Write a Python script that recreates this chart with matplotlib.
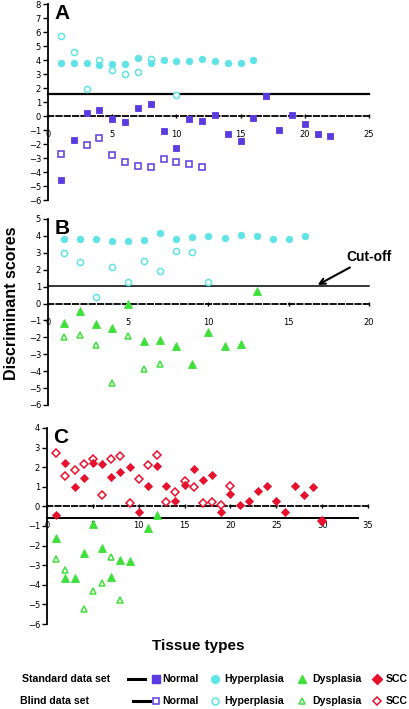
import numpy as np
import matplotlib
matplotlib.use("Agg")
import matplotlib.pyplot as plt

plt.rcParams['font.family'] = ['DejaVu Sans']

# colours
C_NORMAL = "#5a3be0"
C_HYPER = "#5fe3e6"
C_DYS = "#3ee03a"
C_SCC = "#e8112d"

# ---- panel A ----
A_normal_std_x = list(range(1, 23))
A_normal_std_y = [-4.6, -1.7, 0.25, 0.4, -0.2, -0.45, 0.55, 0.85, -1.05, -2.3, -0.2,
                  -0.35, 0.1, -1.3, -1.8, -0.15, 1.45, -1.0, 0.1, -0.6, -1.3, -1.4]
A_normal_bl_x = [1, 3, 4, 5, 6, 7, 8, 9, 10, 11, 12]
A_normal_bl_y = [-2.7, -2.1, -1.55, -2.75, -3.25, -3.6, -3.65, -3.1, -3.25, -3.4, -3.65]
A_hyper_std_x = list(range(1, 17))
A_hyper_std_y = [3.8, 3.8, 3.8, 3.65, 3.7, 3.7, 4.15, 3.8, 4.0, 3.95, 3.9, 4.05, 3.95, 3.8, 3.8, 4.0]
A_hyper_bl_x = [1, 2, 3, 4, 5, 6, 7, 8, 10]
A_hyper_bl_y = [5.75, 4.6, 1.95, 4.0, 3.3, 3.0, 3.15, 4.1, 1.5]
A_cutoff = 1.6

# ---- panel B ----
B_hyper_std_x = list(range(1, 17))
B_hyper_std_y = [3.8, 3.8, 3.8, 3.7, 3.7, 3.75, 4.15, 3.8, 3.95, 4.0, 3.9, 4.05, 4.0, 3.8, 3.8, 4.0]
B_hyper_bl_x = list(range(1, 11))
B_hyper_bl_y = [3.0, 2.45, 0.4, 2.15, 1.3, 2.5, 1.9, 3.1, 3.05, 1.25]
B_dys_std_x = list(range(1, 14))
B_dys_std_y = [-1.15, -0.45, -1.2, -1.45, 0.0, -2.2, -2.15, -2.5, -3.6, -1.7, -2.5, -2.4, 0.75]
B_dys_bl_x = list(range(1, 8))
B_dys_bl_y = [-1.95, -1.85, -2.45, -4.7, -1.9, -3.85, -3.55]
B_cutoff = 1.05

# ---- panel C ----
C_scc_std_x = list(range(1, 31))
C_scc_std_y = [-0.45, 2.2, 1.0, 1.45, 2.2, 2.15, 1.5, 1.75, 2.0, -0.3, 1.05, 2.05, 1.05, 0.28,
               1.1, 1.9, 1.35, 1.6, -0.3, 0.63, 0.08, 0.28, 0.78, 1.02, 0.25, -0.27, 1.05,
               0.58, 0.98, -0.75]
C_scc_bl_x = list(range(1, 21)) + [30]
C_scc_bl_y = [2.72, 1.57, 1.85, 2.17, 2.42, 0.6, 2.42, 2.57, 0.17, 1.42, 2.13, 2.63, 0.2,
              0.75, 1.3, 0.97, 0.17, 0.2, 0.05, 1.05, -0.75]
C_dys_std_x = [1, 2, 3, 4, 5, 6, 7, 8, 9, 11, 12]
C_dys_std_y = [-1.6, -3.65, -3.65, -2.38, -0.88, -2.1, -3.6, -2.72, -2.77, -1.1, -0.45]
C_dys_bl_x = [1, 2, 4, 5, 6, 7, 8]
C_dys_bl_y = [-2.67, -3.23, -5.24, -4.34, -3.9, -2.58, -4.8]
C_cutoff = -0.6

W, H = 410, 709
fig = plt.figure(figsize=(W / 100, H / 100), dpi=100)


def px_axes(left, top, right, bottom):
    return fig.add_axes([left / W, 1 - bottom / H, (right - left) / W, (bottom - top) / H])


def style(ax, xmax, ylo, yhi, xstep):
    ax.set_xlim(0, xmax)
    ax.set_ylim(ylo, yhi)
    for s in ["top", "right"]:
        ax.spines[s].set_visible(False)
    ax.spines["left"].set_linewidth(1.3)
    ax.spines["bottom"].set_position(("data", 0))
    ax.spines["bottom"].set_linestyle((0, (3, 1.6)))
    ax.spines["bottom"].set_linewidth(1.3)
    ax.set_xticks(np.arange(0, xmax + 1, xstep))
    ax.set_yticks(np.arange(ylo, yhi + 1, 1))
    ax.tick_params(axis="y", direction="out", length=3.5, width=1, labelsize=6, pad=1.5)
    ax.tick_params(axis="x", direction="inout", length=3.5, width=1, labelsize=6, pad=8.5)
    ax.patch.set_alpha(0)


def filled(ax, x, y, m, c, ms=4.7):
    ax.plot(x, y, ls="none", marker=m, ms=ms, mfc=c, mec=c, mew=0.6, clip_on=False, zorder=3)


def hollow(ax, x, y, m, c, ms=4.4):
    ax.plot(x, y, ls="none", marker=m, ms=ms, mfc="white", mec=c, mew=1.1, clip_on=False, zorder=3)


LET = dict(fontsize=15, fontweight="bold", family="Liberation Sans", va="top", ha="left")

# panel A
axA = px_axes(48, 4, 369, 200)
style(axA, 25, -6, 8, 5)
axA.plot([0, 25], [A_cutoff, A_cutoff], color="black", lw=1.6, zorder=2, clip_on=False)
hollow(axA, A_hyper_bl_x, A_hyper_bl_y, "o", C_HYPER)
filled(axA, A_hyper_std_x, A_hyper_std_y, "o", C_HYPER)
hollow(axA, A_normal_bl_x, A_normal_bl_y, "s", C_NORMAL, ms=4.1)
filled(axA, A_normal_std_x, A_normal_std_y, "s", C_NORMAL)
axA.text(0.02, 1.0, "A", transform=axA.transAxes, **LET)

# panel B
axB = px_axes(48, 219, 369, 405)
style(axB, 20, -6, 5, 5)
axB.plot([0, 20], [B_cutoff, B_cutoff], color="black", lw=1.1, zorder=2, clip_on=False)
filled(axB, B_hyper_std_x, B_hyper_std_y, "o", C_HYPER)
hollow(axB, B_hyper_bl_x, B_hyper_bl_y, "o", C_HYPER)
filled(axB, B_dys_std_x, B_dys_std_y, "^", C_DYS, ms=5.2)
hollow(axB, B_dys_bl_x, B_dys_bl_y, "^", C_DYS, ms=5.0)
axB.text(0.02, 1.0, "B", transform=axB.transAxes, **LET)
axB.annotate("Cut-off", xy=(16.8, 1.1), xytext=(18.6, 2.75), fontsize=10, fontweight="bold",
             family="Liberation Sans", ha="left", va="center",
             arrowprops=dict(arrowstyle="->", lw=1.5, color="black", shrinkA=1, shrinkB=0),
             annotation_clip=False)

# panel C
axC = px_axes(47, 428, 368, 624)
style(axC, 35, -6, 4, 5)
axC.plot([0, 33.9], [C_cutoff, C_cutoff], color="black", lw=1.4, zorder=2, clip_on=False)
filled(axC, C_dys_std_x, C_dys_std_y, "^", C_DYS, ms=5.2)
hollow(axC, C_dys_bl_x, C_dys_bl_y, "^", C_DYS, ms=5.0)
hollow(axC, C_scc_bl_x, C_scc_bl_y, "D", C_SCC, ms=3.8)
filled(axC, C_scc_std_x, C_scc_std_y, "D", C_SCC, ms=4.3)
axC.text(0.02, 1.0, "C", transform=axC.transAxes, **LET)

# shared labels
fig.text(12 / W, 1 - 303 / H, "Discriminant scores", rotation=90, ha="center", va="center",
         fontsize=11.5, fontweight="bold", family="Liberation Sans")
fig.text(198 / W, 1 - 646 / H, "Tissue types", ha="center", va="center",
         fontsize=11, fontweight="bold", family="Liberation Sans")

# legend drawn in pixel space
leg = fig.add_axes([0, 0, 1, 1])
leg.set_xlim(0, W)
leg.set_ylim(H, 0)
leg.axis("off")
LT = dict(fontsize=7.6, fontweight="bold", family="Liberation Sans", va="center", ha="left")

rows = [
    ("Standard data set", 22, 679, 128, True),
    ("Blind data set", 20, 701, 133, False),
]
items = [("s", C_NORMAL, 156, "Normal", 162), ("o", C_HYPER, 215, "Hyperplasia", 224),
         ("^", C_DYS, 302, "Dysplasia", 312), ("D", C_SCC, 377, "SCC", 386)]
for label, tx, y, lx, is_filled in rows:
    leg.text(tx, y, label, **LT)
    leg.plot([lx, lx + 17], [y, y], color="black", lw=2.2)
    for m, c, mx, name, nx in items:
        ms = 5.6 if m != "D" else 4.6
        if is_filled:
            leg.plot(mx, y, marker=m, ms=ms, mfc=c, mec=c, ls="none")
        else:
            leg.plot(mx, y, marker=m, ms=ms - 0.6, mfc="white", mec=c, mew=1.1, ls="none")
        leg.text(nx, y, name, **LT)

fig.savefig("out.png", dpi=100)
